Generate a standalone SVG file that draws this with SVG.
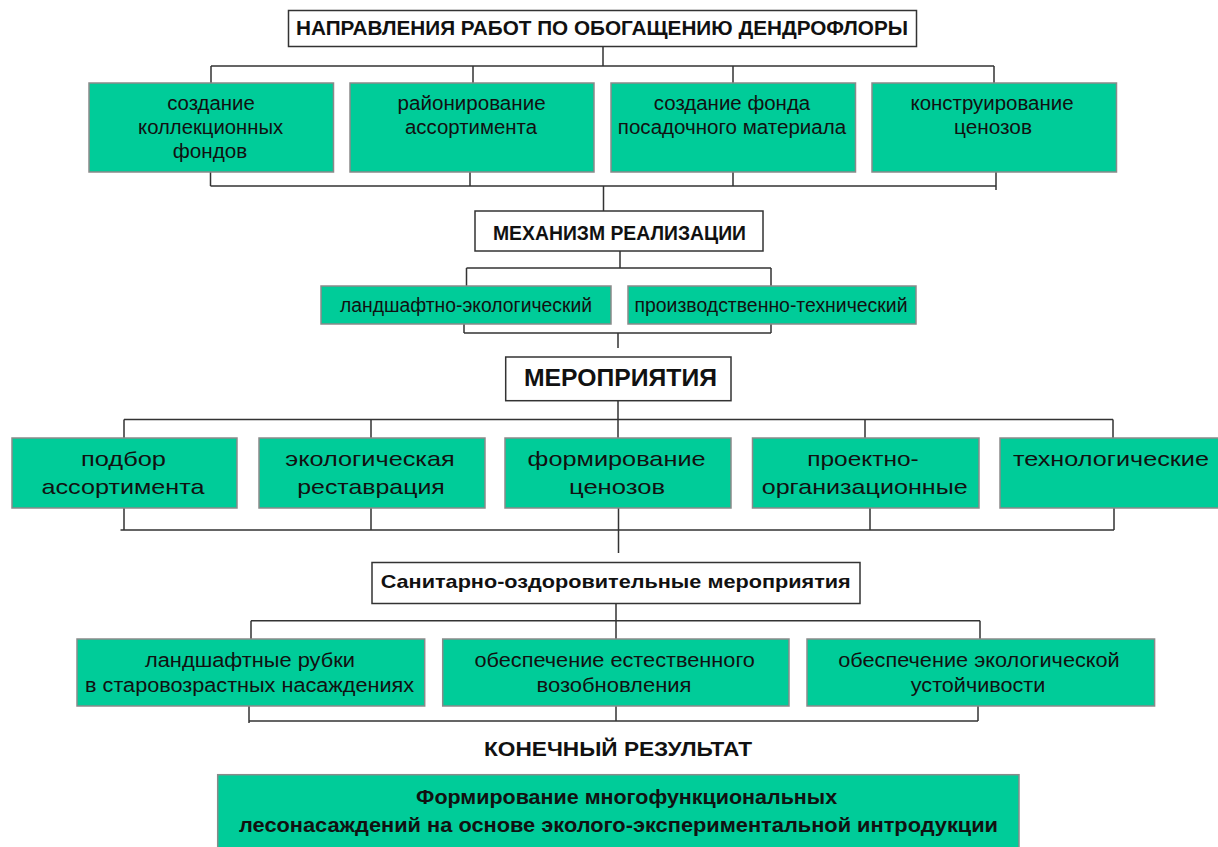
<svg xmlns="http://www.w3.org/2000/svg" width="1218" height="847" viewBox="0 0 1218 847">
<style>
  text { font-family: "Liberation Sans", Arial, sans-serif; fill: #111; text-anchor: middle; }
  .h { font-weight: bold; }
  .t { font-size: 20px; }
  .m { font-size: 21px; }
  .hdr { fill: #fff; stroke: #333; stroke-width: 1.5; }
  .box { fill: #00cc99; stroke: #8a8a8a; stroke-width: 1.5; }
  .c { fill: none; stroke: #333; stroke-width: 1.5; }
</style>
<rect width="1218" height="847" fill="#fff"/>
<g id="connectors">
  <path class="c" d="M603 46V66M211 66H994M211 66V83M473 66V83M733 66V83M994 66V83"/>
  <path class="c" d="M210.5 172V186M470 172V186M733 172V186M996 172V190M210.5 186H996M603.5 186V211"/>
  <path class="c" d="M620 251V268M466.5 268H771M466.5 268V286M771 268V286"/>
  <path class="c" d="M464 324V333M771 324V333M464 333H771M618 333V348"/>
  <path class="c" d="M618 400V438M124 419.5H1113M124 419.5V438M371 419.5V438M865 419.5V438M1113 419.5V438"/>
  <path class="c" d="M124 508V530M371 508V530M618.5 508V553M870 508V530M1114 508V530M120.5 530H1114"/>
  <path class="c" d="M616 603V639M251 620.7H980M251 620.7V639M980 620.7V639"/>
  <path class="c" d="M249 706V723M616 706V721M978 706V721M249 721H978"/>
</g>
<g id="title">
  <rect class="hdr" x="288.5" y="10.5" width="628" height="36"/>
  <text class="h" x="602" y="35" font-size="21" textLength="612" lengthAdjust="spacingAndGlyphs">НАПРАВЛЕНИЯ РАБОТ ПО ОБОГАЩЕНИЮ ДЕНДРОФЛОРЫ</text>
</g>
<g id="n1">
  <rect class="box" x="89" y="83" width="244.5" height="89"/>
  <text class="t" x="211" y="109.5" textLength="87.6" lengthAdjust="spacingAndGlyphs">создание</text>
  <text class="t" x="210.6" y="133.5" textLength="145" lengthAdjust="spacingAndGlyphs">коллекционных</text>
  <text class="t" x="210" y="158" textLength="74.5" lengthAdjust="spacingAndGlyphs">фондов</text>
</g>
<g id="n2">
  <rect class="box" x="350" y="83" width="244" height="89"/>
  <text class="t" x="471.6" y="109.5" textLength="148" lengthAdjust="spacingAndGlyphs">районирование</text>
  <text class="t" x="471" y="133.5" textLength="132" lengthAdjust="spacingAndGlyphs">ассортимента</text>
</g>
<g id="n3">
  <rect class="box" x="611" y="83" width="244.5" height="89"/>
  <text class="t" x="732" y="109.5" textLength="156.4" lengthAdjust="spacingAndGlyphs">создание фонда</text>
  <text class="t" x="732" y="133.5" textLength="228.4" lengthAdjust="spacingAndGlyphs">посадочного материала</text>
</g>
<g id="n4">
  <rect class="box" x="872" y="83" width="244.5" height="89"/>
  <text class="t" x="992" y="109.5" textLength="163" lengthAdjust="spacingAndGlyphs">конструирование</text>
  <text class="t" x="993" y="133.5" textLength="78" lengthAdjust="spacingAndGlyphs">ценозов</text>
</g>
<g id="mechanism">
  <rect class="hdr" x="475" y="211" width="288" height="40"/>
  <text class="h" x="619.5" y="239.5" font-size="20" textLength="253" lengthAdjust="spacingAndGlyphs">МЕХАНИЗМ РЕАЛИЗАЦИИ</text>
</g>
<g id="m1">
  <rect class="box" x="321" y="286" width="290" height="38"/>
  <text class="t" x="466" y="312" textLength="252" lengthAdjust="spacingAndGlyphs">ландшафтно-экологический</text>
</g>
<g id="m2">
  <rect class="box" x="628" y="286" width="288" height="38"/>
  <text class="t" x="771" y="312" textLength="273" lengthAdjust="spacingAndGlyphs">производственно-технический</text>
</g>
<g id="measures">
  <rect class="hdr" x="505.7" y="357" width="225.3" height="43.7"/>
  <text class="h" x="620.5" y="386" font-size="24" textLength="193" lengthAdjust="spacingAndGlyphs">МЕРОПРИЯТИЯ</text>
</g>
<g id="r1">
  <rect class="box" x="12" y="438" width="225" height="70"/>
  <text class="m" x="123.5" y="466" textLength="85" lengthAdjust="spacingAndGlyphs">подбор</text>
  <text class="m" x="123" y="494" textLength="163" lengthAdjust="spacingAndGlyphs">ассортимента</text>
</g>
<g id="r2">
  <rect class="box" x="259" y="438" width="226" height="70"/>
  <text class="m" x="370" y="466" textLength="169.5" lengthAdjust="spacingAndGlyphs">экологическая</text>
  <text class="m" x="371" y="494" textLength="147.5" lengthAdjust="spacingAndGlyphs">реставрация</text>
</g>
<g id="r3">
  <rect class="box" x="505" y="438" width="226" height="70"/>
  <text class="m" x="616.6" y="466" textLength="178" lengthAdjust="spacingAndGlyphs">формирование</text>
  <text class="m" x="617" y="494" textLength="96" lengthAdjust="spacingAndGlyphs">ценозов</text>
</g>
<g id="r4">
  <rect class="box" x="752.5" y="438" width="226.5" height="70"/>
  <text class="m" x="863" y="466" textLength="111.5" lengthAdjust="spacingAndGlyphs">проектно-</text>
  <text class="m" x="864.7" y="494" textLength="206" lengthAdjust="spacingAndGlyphs">организационные</text>
</g>
<g id="r5">
  <rect class="box" x="1000" y="438" width="230" height="70"/>
  <text class="m" x="1111" y="466" textLength="196" lengthAdjust="spacingAndGlyphs">технологические</text>
</g>
<g id="sanitary">
  <rect class="hdr" x="372" y="562.5" width="488" height="41"/>
  <text class="h" x="615.7" y="588" font-size="19" textLength="470" lengthAdjust="spacingAndGlyphs">Санитарно-оздоровительные мероприятия</text>
</g>
<g id="s1">
  <rect class="box" x="77" y="639" width="347.7" height="67"/>
  <text class="t" x="250" y="667" textLength="210" lengthAdjust="spacingAndGlyphs">ландшафтные рубки</text>
  <text class="t" x="249.6" y="692" textLength="329" lengthAdjust="spacingAndGlyphs">в старовозрастных насаждениях</text>
</g>
<g id="s2">
  <rect class="box" x="442.7" y="639" width="346.3" height="67"/>
  <text class="t" x="614.7" y="667" textLength="280.5" lengthAdjust="spacingAndGlyphs">обеспечение естественного</text>
  <text class="t" x="614" y="692" textLength="155" lengthAdjust="spacingAndGlyphs">возобновления</text>
</g>
<g id="s3">
  <rect class="box" x="807" y="639" width="347.6" height="67"/>
  <text class="t" x="979" y="667" textLength="281.5" lengthAdjust="spacingAndGlyphs">обеспечение экологической</text>
  <text class="t" x="978" y="692" textLength="134.4" lengthAdjust="spacingAndGlyphs">устойчивости</text>
</g>
<g id="result-label">
  <text class="h" x="618" y="756" font-size="20" textLength="268" lengthAdjust="spacingAndGlyphs">КОНЕЧНЫЙ РЕЗУЛЬТАТ</text>
</g>
<g id="result">
  <rect class="box" x="217.7" y="774.7" width="801.3" height="80"/>
  <text class="h" x="626.6" y="804" font-size="20" textLength="421" lengthAdjust="spacingAndGlyphs">Формирование многофункциональных</text>
  <text class="h" x="618.5" y="831.5" font-size="20" textLength="759" lengthAdjust="spacingAndGlyphs">лесонасаждений на основе эколого-экспериментальной интродукции</text>
</g>
</svg>
